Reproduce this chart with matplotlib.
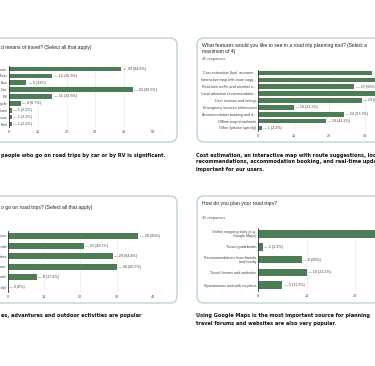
import matplotlib
matplotlib.use("Agg")
import matplotlib.pyplot as plt
from matplotlib.patches import FancyBboxPatch

W, H = 375, 366

# ---------------- data ----------------
travel_cats = ["Airplane", "Train", "Bus", "Car", "RV", "Motorcycle", "Cruises", "Ultimate", "Kart"]
travel_vals = [39, 15, 6, 43, 15, 4, 1, 1, 1]
travel_total = 46
travel_ticks = [0, 10, 20, 30, 40, 50]

feature_cats = ["Cost estimation (fuel, accomm...", "Interactive map with route sugg...",
                "Real-time traffic and weather u...", "Local attraction recommendatio...",
                "User reviews and ratings", "Emergency services information",
                "Accommodation booking and d...", "Offline map downloads",
                "Other (please specify)"]
feature_vals = [32, 36, 27, 35, 29, 10, 24, 19, 1]
feature_total = 45
feature_ticks = [0, 10, 20, 30, 40]

reason_cats = ["Relaxation and peace", "Visiting friends", "Exploring new cities",
               "Adventure", "Local meals", "Other (please specify)"]
reason_vals = [36, 21, 29, 30, 8, 0]
reason_total = 45
reason_ticks = [0, 10, 20, 30, 40]

plan_cats = ["Online mapping tools (e.g.\nGoogle Maps)", "Travel guidebooks",
             "Recommendations from friends\nand family", "Travel forums and websites",
             "Spontaneous and with no plans"]
plan_vals = [40, 1, 9, 10, 5]
plan_total = 45
plan_ticks = [0, 10, 20, 30]

GREEN = "#4e7c57"
BORDER = "#b5d2be"
TXT = "#444444"
FS_AX = 2.7

fig = plt.figure(figsize=(W / 100, H / 100), dpi=100)
bg = fig.add_axes([0, 0, 1, 1])
bg.set_xlim(0, W)
bg.set_ylim(H, 0)
bg.axis("off")


def card(x0, y0, x1, y1):
    p = FancyBboxPatch((x0, y0), x1 - x0, y1 - y0,
                       boxstyle="round,pad=0,rounding_size=7",
                       ec=BORDER, fc="white", lw=0.9)
    bg.add_patch(p)


card(-20, 38, 177, 142)
card(197, 38, 400, 142)
card(-20, 196, 177, 303)
card(197, 196, 400, 303)


def fmt(v, total):
    p = round(v / total * 100, 1)
    return f"{v} ({p:g}%)"


def chart(zero_px, px10, ticks, y_first, y_last, cats, vals, total, bar_px):
    n = len(cats)
    sp = (y_last - y_first) / (n - 1)
    top = y_first - sp / 2
    bot = y_last + sp / 2
    xmax = ticks[-1]
    right = zero_px + xmax / 10 * px10
    ax = fig.add_axes([zero_px / W, 1 - bot / H, (right - zero_px) / W, (bot - top) / H])
    ax.patch.set_alpha(0)
    ax.barh(range(n), vals, height=bar_px / sp, color=GREEN, zorder=3)
    ax.set_xlim(0, xmax)
    ax.set_ylim(n - 0.5, -0.5)
    ax.set_xticks(ticks)
    ax.set_xticklabels([str(t) for t in ticks], fontsize=FS_AX, color=TXT)
    ax.set_yticks(range(n))
    ax.set_yticklabels(cats, fontsize=FS_AX, color=TXT, family="Liberation Sans",
                       linespacing=1.0)
    for lab in ax.get_xticklabels():
        lab.set_family("Liberation Sans")
    ax.tick_params(length=0, pad=1.2)
    ax.tick_params(axis="x", pad=2.0)
    ax.grid(axis="x", color="#e3e3e3", lw=0.4, zorder=0)
    for s in ["top", "right", "bottom"]:
        ax.spines[s].set_visible(False)
    ax.spines["left"].set_color("#333333")
    ax.spines["left"].set_linewidth(0.6)
    ax.spines["left"].set_zorder(4)
    for i, v in enumerate(vals):
        ax.annotate("\u2014 " + fmt(v, total), xy=(v, i), xytext=(1.0, 0),
                    textcoords="offset points", va="center", ha="left",
                    fontsize=FS_AX, color=TXT, family="Liberation Sans",
                    annotation_clip=False)
    return ax


chart(9, 28.8, travel_ticks, 69, 124, travel_cats, travel_vals, travel_total, 4.6)
chart(258, 35.7, feature_ticks, 73, 128, feature_cats, feature_vals, feature_total, 4.6)
chart(8, 36.2, reason_ticks, 236, 287, reason_cats, reason_vals, reason_total, 6.0)
chart(258, 48.5, plan_ticks, 234, 285, plan_cats, plan_vals, plan_total, 7.5)

# titles
TFS = 3.6
tk = dict(fontsize=TFS, color="#202124", family="Liberation Sans", va="center", ha="left")
rk = dict(fontsize=2.75, color="#555555", family="Liberation Sans", va="center", ha="left")
bg.text(1, 48, "d means of travel? (Select all that apply)", **tk)
bg.text(202, 45, "What features would you like to see in a road trip planning tool? (Select a", **tk)
bg.text(202, 52, "maximum of 4)", **tk)
bg.text(202, 59, "45 responses", **rk)
bg.text(1, 208, "o go on road trips? (Select all that apply)", **tk)
bg.text(202, 204, "How do you plan your road trips?", **tk)
bg.text(202, 218, "45 responses", **rk)

# captions
CFS = 3.6
ck = dict(fontsize=CFS, color="#111111", family="DejaVu Sans", weight="bold", va="center", ha="left")
bg.text(1, 155, "people who go on road trips by car or by RV is significant.", **ck)
bg.text(196, 155, "Cost estimation, an interactive map with route suggestions, local attraction", **ck)
bg.text(196, 162, "recommendations, accommodation booking, and real-time updates are", **ck)
bg.text(196, 169, "important for our users.", **ck)
bg.text(1, 315, "es, advantures and outdoor activities are popular", **ck)
bg.text(196, 315, "Using Google Maps is the most important source for planning", **ck)
bg.text(196, 323, "travel forums and websites are also very popular.", **ck)

fig.savefig("out.png", dpi=100)
